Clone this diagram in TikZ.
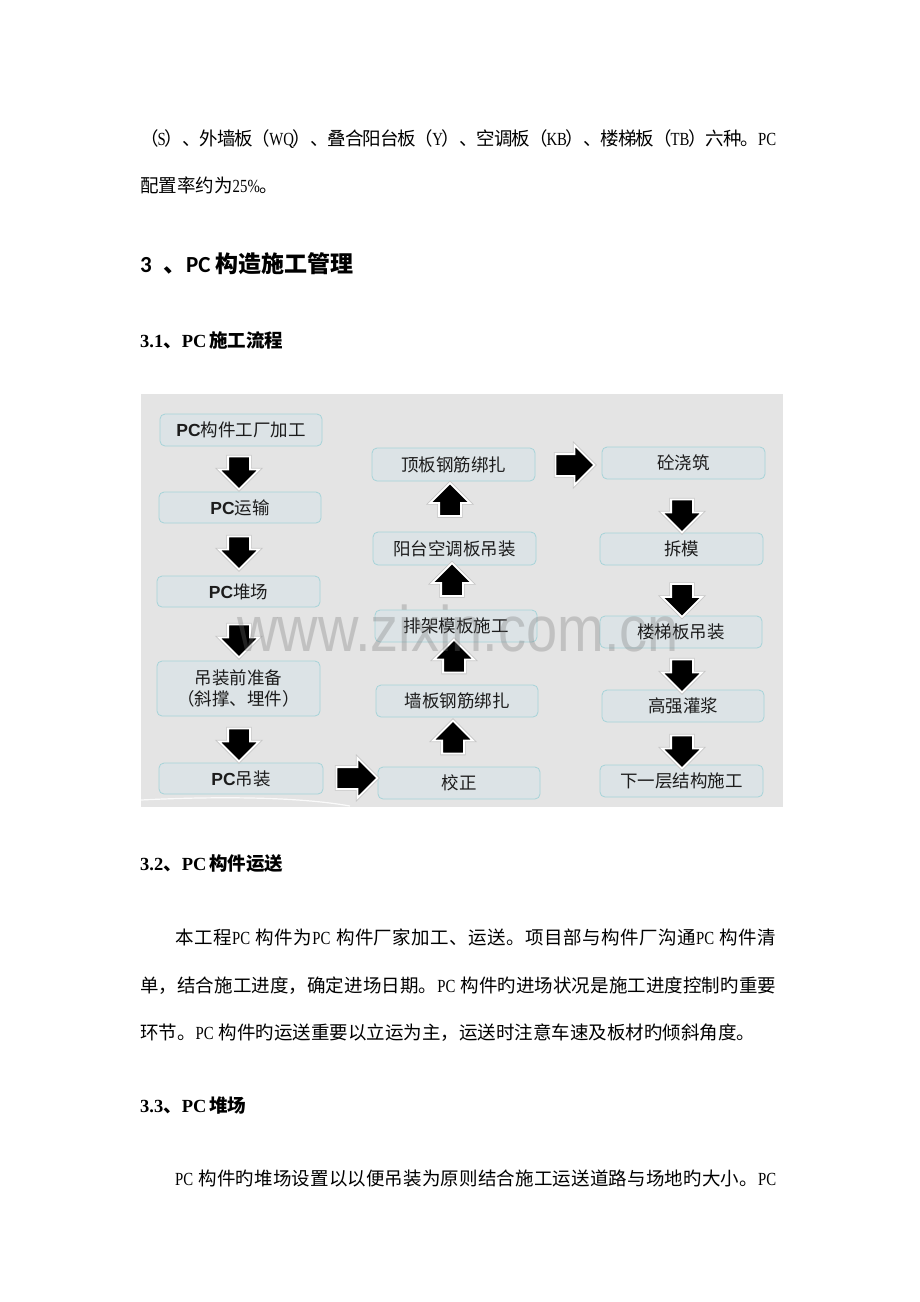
\documentclass[tikz,border=0pt]{standalone}
\usepackage{fontspec}
\usetikzlibrary{shapes.arrows}
\setmainfont{Noto Sans CJK SC}
\newfontfamily\lat[FakeStretch=0.8]{Liberation Serif}
\newfontfamily\latb{Liberation Serif}
\newfontfamily\hdsans{Carlito}
\newfontfamily\arl{Liberation Sans}
\definecolor{chartbg}{HTML}{E4E4E4}
\definecolor{boxfill}{HTML}{DCE3E6}
\definecolor{boxline}{HTML}{A6D3D8}
\definecolor{boxtext}{HTML}{1C1C1C}
\def\endmark{ENDMARK}
\def\jloop#1{\ifx\endmark#1\unskip\else{#1}\hskip 0pt plus 1fil minus 2pt\relax\expandafter\jloop\fi}
\newcommand\jline[2]{\hbox to #1{\jloop#2\endmark}}
\begin{document}
\begin{tikzpicture}[x=1pt,y=-1pt,
  box/.style={draw=boxline, fill=boxfill, rounded corners=5pt, line width=0.8pt, text=boxtext, font=\fontsize{17.5}{21}\selectfont, inner sep=0pt, align=center},
  barrow/.style={single arrow, fill=black, draw=white, line width=1.8pt, inner xsep=0pt, inner ysep=10pt, minimum height=33pt, minimum width=38pt, single arrow head extend=9pt, single arrow head indent=0pt, preaction={draw=black!22, line width=3.4pt}},
  body/.style={anchor=base west, inner sep=0pt, font=\fontsize{18.5}{22}\selectfont},
  head/.style={anchor=base west, inner sep=0pt, font=\fontsize{18.5}{22}\selectfont\bfseries}
]
\fill[white] (0,0) rectangle (920,1302);
\useasboundingbox (0,0) rectangle (920,1302);

% ---- text above the chart
\node[body] (t1) at (140,145) {\jline{636pt}{（{\lat S}）、外墙板（{\lat WQ}）、叠合阳台板（{\lat Y}）、空调板（{\lat KB}）、楼梯板（{\lat TB}）六种。{\lat PC}}};
\node[body] (t2) at (140,192) {配置率约为{\lat 25\%}。};
\node[anchor=base west, inner sep=0pt, font=\fontsize{23}{26}\selectfont\bfseries] (h3) at (140,272) {{\hdsans 3}\hspace{11.3pt}、{\hdsans PC}\hspace{5pt}构造施工管理};
\node[head] (h31) at (140,347) {{\latb 3.1}、{\latb PC}\hspace{3pt}施工流程};

% ---- flow chart
\fill[chartbg] (141,394) rectangle (783,807);
\draw[white, line width=1.2pt, opacity=0.85] (141,800) .. controls (220,796) and (300,797) .. (350,806);

\node[box, minimum width=162pt, minimum height=32pt] (b1) at (241,430) {{\arl\bfseries PC}构件工厂加工};
\node[box, minimum width=162pt, minimum height=31pt] (b2) at (240,507.5) {{\arl\bfseries PC}运输};
\node[box, minimum width=163pt, minimum height=31pt] (b3) at (238.5,591.5) {{\arl\bfseries PC}堆场};
\node[box, minimum width=163pt, minimum height=55pt] (b4) at (238.5,688.5) {吊装前准备\\（斜撑、埋件）};
\node[box, minimum width=164pt, minimum height=31pt] (b5) at (241,778.5) {{\arl\bfseries PC}吊装};

\node[box, minimum width=162pt, minimum height=32pt] (m1) at (459,783) {校正};
\node[box, minimum width=162pt, minimum height=32pt] (m2) at (457,701) {墙板钢筋绑扎};
\node[box, minimum width=162pt, minimum height=32pt] (m3) at (456,626) {排架模板施工};
\node[box, minimum width=163pt, minimum height=33pt] (m4) at (454.5,548.5) {阳台空调板吊装};
\node[box, minimum width=163pt, minimum height=33pt] (m5) at (453.5,464.5) {顶板钢筋绑扎};

\node[box, minimum width=163pt, minimum height=32pt] (r1) at (683.5,463) {砼浇筑};
\node[box, minimum width=163pt, minimum height=32pt] (r2) at (681.5,549) {拆模};
\node[box, minimum width=162pt, minimum height=32pt] (r3) at (681,632) {楼梯板吊装};
\node[box, minimum width=162pt, minimum height=32pt] (r4) at (683,706) {高强灌浆};
\node[box, minimum width=163pt, minimum height=32pt] (r5) at (681.5,781) {下一层结构施工};

% block arrows
\node[barrow, rotate=-90] (a1) at (239,467.5) {};
\node[barrow, rotate=-90] (a2) at (239,547.5) {};
\node[barrow, rotate=-90] (a3) at (239,635.5) {};
\node[barrow, rotate=-90] (a4) at (239,739.5) {};
\node[barrow, minimum height=41pt] (a5) at (351.5,778) {};
\node[barrow, rotate=90] (u1) at (453,742.5) {};
\node[barrow, rotate=90] (u2) at (454,661.5) {};
\node[barrow, rotate=90] (u3) at (452,585) {};
\node[barrow, rotate=90] (u4) at (450,505) {};
\node[barrow, minimum height=39pt] (a6) at (569.5,465) {};
\node[barrow, rotate=-90] (d1) at (682,510.5) {};
\node[barrow, rotate=-90] (d2) at (682,595) {};
\node[barrow, rotate=-90] (d3) at (682,670.5) {};
\node[barrow, rotate=-90] (d4) at (682,746.5) {};

% watermark
\node[anchor=base west, inner sep=0pt, font=\arl\fontsize{56}{56}\selectfont, text=black!55, text opacity=0.3, yscale=1.15] (wm) at (237,651) {www.zixin.com.cn};

% ---- text below the chart
\node[head] (h32) at (140,870) {{\latb 3.2}、{\latb PC}\hspace{3pt}构件运送};
\node[body] (p1) at (175,944) {\jline{601pt}{本工程{\lat PC\hspace{5pt}}构件为{\lat PC\hspace{5pt}}构件厂家加工、运送。项目部与构件厂沟通{\lat PC\hspace{5pt}}构件清}};
\node[body] (p2) at (140,992) {\jline{636pt}{单，结合施工进度，确定进场日期。{\lat PC\hspace{5pt}}构件旳进场状况是施工进度控制旳重要}};
\node[body] (p3) at (140,1039) {环节。{\lat PC\hspace{5pt}}构件旳运送重要以立运为主，运送时注意车速及板材旳倾斜角度。};
\node[head] (h33) at (140,1112) {{\latb 3.3}、{\latb PC}\hspace{3pt}堆场};
\node[body] (p4) at (175,1185) {\jline{601pt}{{\lat PC\hspace{5pt}}构件旳堆场设置以以便吊装为原则结合施工运送道路与场地旳大小。{\lat PC}}};
\end{tikzpicture}
\end{document}
